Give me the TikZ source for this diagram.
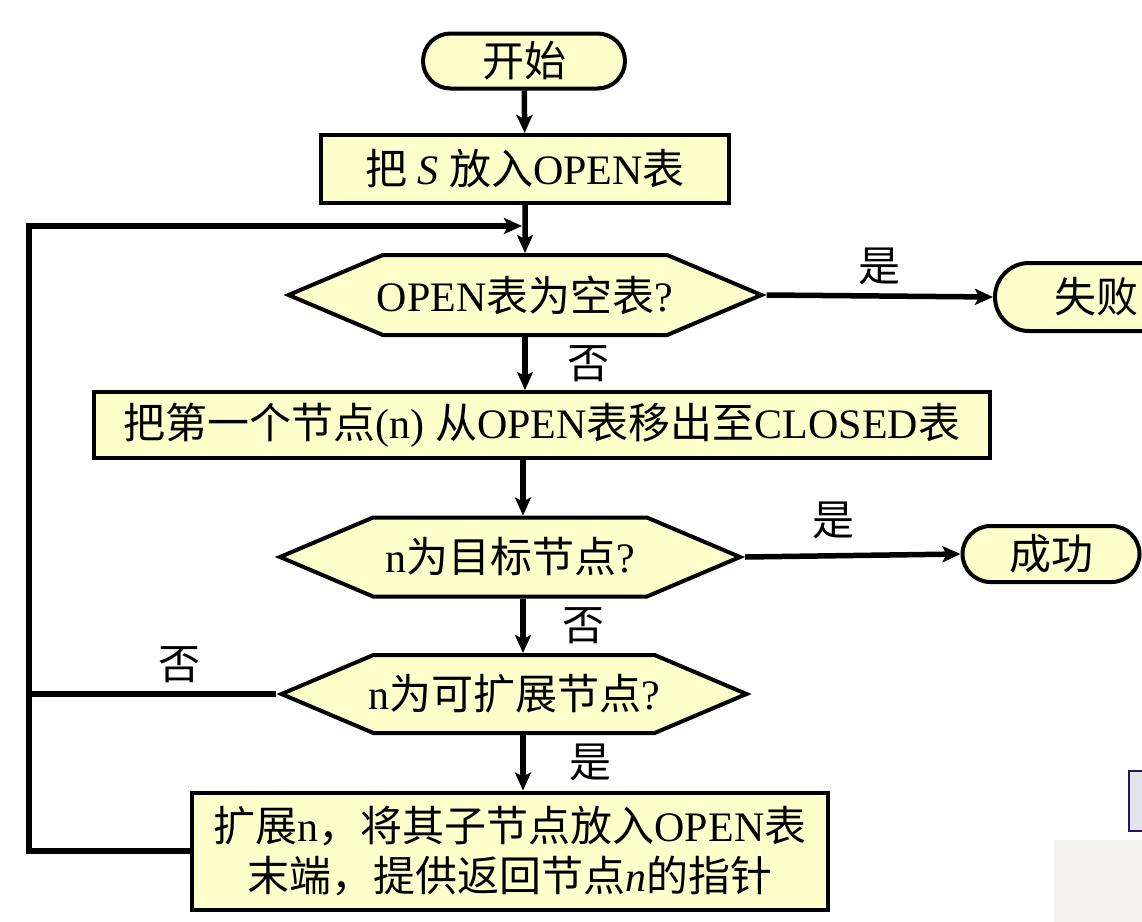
\documentclass[tikz,border=0pt]{standalone}
\usepackage{fontspec}
\setmainfont{Liberation Serif}
\newfontfamily\cjk{Noto Sans CJK SC}
\usetikzlibrary{arrows.meta,shapes.misc,shapes.symbols}
\definecolor{paleyellow}{RGB}{255,255,204}
\definecolor{slidegray}{RGB}{228,228,236}
\definecolor{slideedge}{RGB}{40,20,90}
\definecolor{slidebeige}{RGB}{243,242,238}
\newcommand{\zhtext}[1]{{\cjk #1}}

\begin{document}
\begin{tikzpicture}[x=1pt, y=-1pt, >={Stealth[length=18pt,width=16pt,inset=4pt]},
    every node/.style={font=\fontsize{42}{50}\selectfont},
    terminal/.style={rounded rectangle, draw, line width=4pt, fill=paleyellow, minimum width=#1, inner sep=0pt},
    process/.style={rectangle, draw, line width=4pt, fill=paleyellow, inner sep=0pt},
    decision/.style={signal, signal to=east and west, signal pointer angle=46, draw, line width=4pt, fill=paleyellow, inner ysep=0pt, inner xsep=-6pt},
    flow/.style={->, line width=5.5pt},
    link/.style={line width=5.5pt},
    answer/.style={inner sep=0pt}]
    \useasboundingbox (0,0) rectangle (1142,921);

    % slide fragments
    \fill[slidebeige] (1054,840) rectangle (1160,940);
    \draw[slideedge, line width=2pt, fill=slidegray] (1129,771) rectangle (1170,831);

    % nodes
    \node[terminal=202pt, minimum height=55pt] (start) at (524,61) {\zhtext{开始}};
    \node[process, minimum width=408pt, minimum height=68pt] (put) at (525,169) {\zhtext{把} \textit{S} \zhtext{放入}OPEN\zhtext{表}};
    \node[decision, minimum width=465pt, minimum height=80pt] (empty) at (525,295) {OPEN\zhtext{表为空表}?};
    \node[terminal=202pt, minimum height=68pt] (fail) at (1096,297) {\zhtext{失败}};
    \node[process, minimum width=896pt, minimum height=66pt] (take) at (542,425) {\zhtext{把第一个节点}(n) \zhtext{从}OPEN\zhtext{表移出至}CLOSED\zhtext{表}};
    \node[decision, minimum width=460pt, minimum height=79pt] (goal) at (510,557) {n\zhtext{为目标节点}?};
    \node[terminal=177pt, minimum height=56pt] (success) at (1051,554) {\zhtext{成功}};
    \node[decision, minimum width=465pt, minimum height=78pt] (expandable) at (514,694) {n\zhtext{为可扩展节点}?};
    \node[process, minimum width=636pt, minimum height=117pt, align=center] (expand) at (510,851) {\zhtext{扩展}n\zhtext{，将其子节点放入}OPEN\zhtext{表}\\\zhtext{末端，提供返回节点}\textit{n}\zhtext{的指针}};

    % helper points
    \coordinate (axis) at (523,0);
    \coordinate (loopx) at (29,0);
    \coordinate (merge) at (522,226);

    % connectors
    \draw[flow] (start) -- (put);
    \draw[flow] (put) -- (empty);
    \draw[flow] (empty.east) -- node[answer, above=8pt] {\zhtext{是}} (fail.west);
    \draw[flow] (empty.south) -- node[answer, right=40pt] {\zhtext{否}} (take.north -| empty.south);
    \draw[flow] (take.south -| axis) -- (goal.north -| axis);
    \draw[flow] (goal.east) -- node[answer, above=14pt, pos=0.41] {\zhtext{是}} (success.west);
    \draw[flow] (goal.south -| axis) -- node[answer, right=37pt] {\zhtext{否}} (expandable.north -| axis);
    \draw[flow] (expandable.south -| axis) -- node[answer, right=44pt] {\zhtext{是}} (expand.north -| axis);
    \draw[link] (expandable.west) -- node[answer, above=8pt, pos=0.39] {\zhtext{否}} (expandable.west -| loopx);
    \draw[flow] (expand.west) -- (expand.west -| loopx) |- (merge);
\end{tikzpicture}
\end{document}
